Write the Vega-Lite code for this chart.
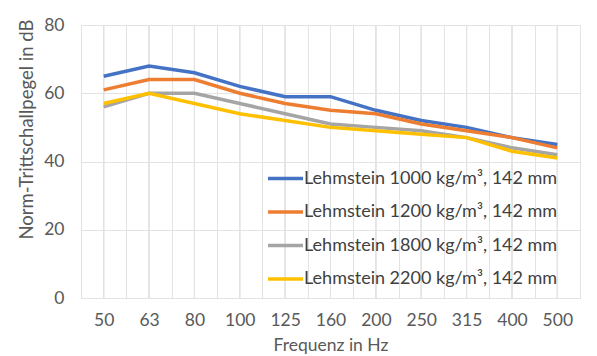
{
  "$schema": "https://vega.github.io/schema/vega-lite/v6.json",
  "autosize": "none",
  "width": 499,
  "height": 273,
  "padding": {"left": 81, "top": 25, "right": 17, "bottom": 58},
  "background": "white",
  "config": {
    "font": "Lato",
    "view": {"stroke": "#d9d9d9", "strokeWidth": 1},
    "axis": {"labelFont": "Lato", "titleFont": "Lato", "labelColor": "#595959", "titleColor": "#595959", "labelFontSize": 17.5, "titleFontSize": 17.5, "titleFontWeight": "normal", "gridColor": "#e3e3e3", "gridWidth": 1, "domain": false, "ticks": false}
  },
  "data": {"values": [
    {"freq": "50", "series": "Lehmstein 1000 kg/m³, 142 mm", "value": 65},
    {"freq": "63", "series": "Lehmstein 1000 kg/m³, 142 mm", "value": 68},
    {"freq": "80", "series": "Lehmstein 1000 kg/m³, 142 mm", "value": 66},
    {"freq": "100", "series": "Lehmstein 1000 kg/m³, 142 mm", "value": 62},
    {"freq": "125", "series": "Lehmstein 1000 kg/m³, 142 mm", "value": 59},
    {"freq": "160", "series": "Lehmstein 1000 kg/m³, 142 mm", "value": 59},
    {"freq": "200", "series": "Lehmstein 1000 kg/m³, 142 mm", "value": 55},
    {"freq": "250", "series": "Lehmstein 1000 kg/m³, 142 mm", "value": 52},
    {"freq": "315", "series": "Lehmstein 1000 kg/m³, 142 mm", "value": 50},
    {"freq": "400", "series": "Lehmstein 1000 kg/m³, 142 mm", "value": 47},
    {"freq": "500", "series": "Lehmstein 1000 kg/m³, 142 mm", "value": 45},
    {"freq": "50", "series": "Lehmstein 1200 kg/m³, 142 mm", "value": 61},
    {"freq": "63", "series": "Lehmstein 1200 kg/m³, 142 mm", "value": 64},
    {"freq": "80", "series": "Lehmstein 1200 kg/m³, 142 mm", "value": 64},
    {"freq": "100", "series": "Lehmstein 1200 kg/m³, 142 mm", "value": 60},
    {"freq": "125", "series": "Lehmstein 1200 kg/m³, 142 mm", "value": 57},
    {"freq": "160", "series": "Lehmstein 1200 kg/m³, 142 mm", "value": 55},
    {"freq": "200", "series": "Lehmstein 1200 kg/m³, 142 mm", "value": 54},
    {"freq": "250", "series": "Lehmstein 1200 kg/m³, 142 mm", "value": 51},
    {"freq": "315", "series": "Lehmstein 1200 kg/m³, 142 mm", "value": 49},
    {"freq": "400", "series": "Lehmstein 1200 kg/m³, 142 mm", "value": 47},
    {"freq": "500", "series": "Lehmstein 1200 kg/m³, 142 mm", "value": 44},
    {"freq": "50", "series": "Lehmstein 1800 kg/m³, 142 mm", "value": 56},
    {"freq": "63", "series": "Lehmstein 1800 kg/m³, 142 mm", "value": 60},
    {"freq": "80", "series": "Lehmstein 1800 kg/m³, 142 mm", "value": 60},
    {"freq": "100", "series": "Lehmstein 1800 kg/m³, 142 mm", "value": 57},
    {"freq": "125", "series": "Lehmstein 1800 kg/m³, 142 mm", "value": 54},
    {"freq": "160", "series": "Lehmstein 1800 kg/m³, 142 mm", "value": 51},
    {"freq": "200", "series": "Lehmstein 1800 kg/m³, 142 mm", "value": 50},
    {"freq": "250", "series": "Lehmstein 1800 kg/m³, 142 mm", "value": 49},
    {"freq": "315", "series": "Lehmstein 1800 kg/m³, 142 mm", "value": 47},
    {"freq": "400", "series": "Lehmstein 1800 kg/m³, 142 mm", "value": 44},
    {"freq": "500", "series": "Lehmstein 1800 kg/m³, 142 mm", "value": 42},
    {"freq": "50", "series": "Lehmstein 2200 kg/m³, 142 mm", "value": 57},
    {"freq": "63", "series": "Lehmstein 2200 kg/m³, 142 mm", "value": 60},
    {"freq": "80", "series": "Lehmstein 2200 kg/m³, 142 mm", "value": 57},
    {"freq": "100", "series": "Lehmstein 2200 kg/m³, 142 mm", "value": 54},
    {"freq": "125", "series": "Lehmstein 2200 kg/m³, 142 mm", "value": 52},
    {"freq": "160", "series": "Lehmstein 2200 kg/m³, 142 mm", "value": 50},
    {"freq": "200", "series": "Lehmstein 2200 kg/m³, 142 mm", "value": 49},
    {"freq": "250", "series": "Lehmstein 2200 kg/m³, 142 mm", "value": 48},
    {"freq": "315", "series": "Lehmstein 2200 kg/m³, 142 mm", "value": 47},
    {"freq": "400", "series": "Lehmstein 2200 kg/m³, 142 mm", "value": 43},
    {"freq": "500", "series": "Lehmstein 2200 kg/m³, 142 mm", "value": 41}
  ]},
  "encoding": {
    "x": {"field": "freq", "type": "ordinal", "sort": null, "scale": {"type": "band", "paddingInner": 0, "paddingOuter": 0},
      "axis": {"title": "Frequenz in Hz", "labelAngle": 0, "grid": true, "tickBand": "extent", "labelPadding": 13, "titlePadding": 8}}
  },
  "layer": [
    {
      "mark": {"type": "rule", "color": "#e3e3e3", "strokeWidth": 1},
      "encoding": {}
    },
    {
      "mark": {"type": "line", "strokeWidth": 3.5, "strokeJoin": "miter", "strokeCap": "butt"},
      "encoding": {
        "y": {"field": "value", "type": "quantitative", "scale": {"domain": [0, 80]},
          "axis": {"title": "Norm-Trittschallpegel in dB", "titleFontSize": 18.5, "values": [0, 20, 40, 60, 80], "labelPadding": 17, "titlePadding": 7, "titleY": 104}},
        "color": {"field": "series", "type": "nominal", "sort": null,
          "scale": {"range": ["#4472C4", "#ED7D31", "#A5A5A5", "#FFC000"]},
          "legend": {"title": null, "orient": "none", "legendX": 185, "legendY": 134, "symbolType": "stroke", "symbolSize": 1225, "symbolStrokeWidth": 3.5, "labelFontSize": 18, "labelColor": "#404040", "labelFont": "Lato", "labelOffset": -1, "rowPadding": 4.5, "padding": 0, "labelLimit": 400}}
      }
    }
  ]
}
